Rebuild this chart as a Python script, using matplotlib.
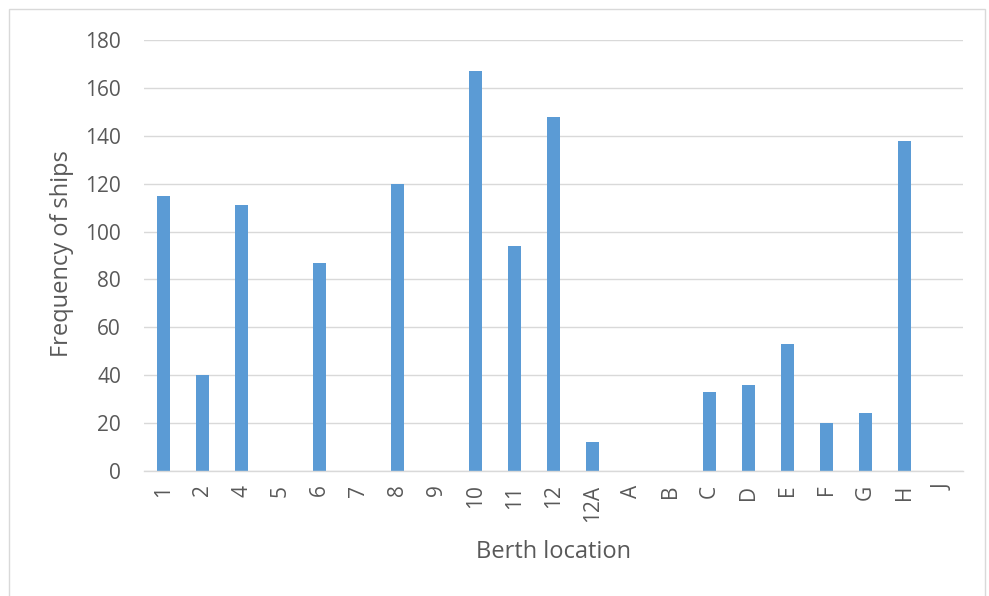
import matplotlib
matplotlib.use("Agg")
import matplotlib.pyplot as plt
from matplotlib.patches import Rectangle

berths = ["1", "2", "4", "5", "6", "7", "8", "9", "10", "11", "12", "12A",
          "A", "B", "C", "D", "E", "F", "G", "H", "J"]
ships = [115, 40, 111, 0, 87, 0, 120, 0, 167, 94, 148, 12,
         0, 0, 33, 36, 53, 20, 24, 138, 0]
y_ticks = [0, 20, 40, 60, 80, 100, 120, 140, 160, 180]

plt.rcParams["font.family"] = ["Open Sans", "DejaVu Sans"]
text_color = "#595959"
grid_color = "#d9d9d9"

W, H = 989, 596
fig = plt.figure(figsize=(W / 100, H / 100), dpi=100)
fig.patch.set_facecolor("white")

# outer chart frame
fig.add_artist(Rectangle((9 / W, -0.01), (985 - 9) / W, 1 - 9 / H + 0.01,
                         transform=fig.transFigure, fill=False,
                         edgecolor="#d9d9d9", linewidth=1.0))

ax = fig.add_axes([144 / W, 1 - 470.7 / H, (963 - 144) / W, (470.7 - 40.3) / H])
x = range(len(berths))
ax.bar(x, ships, width=0.33, color="#5b9bd5", zorder=3)

ax.set_xlim(-0.5, len(berths) - 0.5)
ax.set_ylim(0, 180)
ax.set_yticks(y_ticks)
ax.set_xticks(list(x))
ax.set_xticklabels(berths, rotation=90)

ax.grid(axis="y", color=grid_color, linewidth=1.0, zorder=0)
for s in ["top", "right", "left"]:
    ax.spines[s].set_visible(False)
ax.spines["bottom"].set_color(grid_color)
ax.spines["bottom"].set_linewidth(1.0)
ax.spines["bottom"].set_zorder(4)

ax.tick_params(axis="both", length=0, labelcolor=text_color, labelsize=15)
ax.tick_params(axis="y", pad=16.5)
ax.tick_params(axis="x", pad=10)

fig.text(553 / W, 1 - 552 / H, "Berth location", ha="center", va="center",
         fontsize=17, color=text_color)
fig.text(62 / W, 1 - 254 / H, "Frequency of ships", ha="center", va="center",
         rotation=90, fontsize=17, color=text_color)

fig.savefig("out.png", dpi=100, facecolor="white")
